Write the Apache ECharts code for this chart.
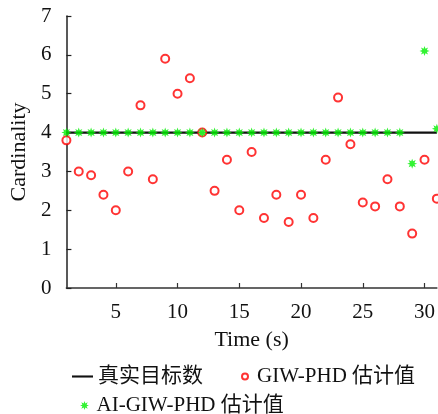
<!DOCTYPE html>
<html>
<head>
  <meta charset="utf-8">
  <title>Cardinality</title>
  <style>
    html, body { margin: 0; padding: 0; background: #fff; }
    #main { width: 438px; height: 414px; }
  </style>
</head>
<body>
  <div id="main"></div>
  <script src="https://cdn.jsdelivr.net/npm/echarts@6/dist/echarts.min.js"></script>
  <script type="text/javascript">
    // time steps 1..31
    const TIMES = [1, 2, 3, 4, 5, 6, 7, 8, 9, 10, 11, 12, 13, 14, 15, 16, 17, 18, 19, 20,
      21, 22, 23, 24, 25, 26, 27, 28, 29, 30, 31]
    const TRUE_COUNT = [4, 4, 4, 4, 4, 4, 4, 4, 4, 4, 4, 4, 4, 4, 4, 4, 4, 4, 4, 4,
      4, 4, 4, 4, 4, 4, 4, 4, 4, 4, 4]
    const GIW_PHD = [3.8, 3.0, 2.9, 2.4, 2.0, 3.0, 4.7, 2.8, 5.9, 5.0, 5.4, 4.0, 2.5, 3.3, 2.0, 3.5,
      1.8, 2.4, 1.7, 2.4, 1.8, 3.3, 4.9, 3.7, 2.2, 2.1, 2.8, 2.1, 1.4, 3.3, 2.3]
    const AI_GIW_PHD = [4, 4, 4, 4, 4, 4, 4, 4, 4, 4, 4, 4, 4, 4, 4, 4, 4, 4, 4, 4,
      4, 4, 4, 4, 4, 4, 4, 4, 3.2, 6.1, 4.1]
    const X_TICKS = [5, 10, 15, 20, 25, 30]
    const NAMES = ['真实目标数', 'GIW-PHD 估计值', 'AI-GIW-PHD 估计值']

    const FONT = '"Liberation Serif", "Noto Sans CJK SC", serif'
    const RED = '#ff0000'
    const GREEN = '#00f000'

    let pairs = (ys) => TIMES.map((t, i) => [t, ys[i]])

    // 8 spiked star, like the matlab '*' marker
    let starPath = () => {
      let pts = []
      for (let i = 0; i < 16; i++) {
        let a = Math.PI * i / 8
        let r = i % 2 == 0 ? 10 : 5
        pts.push((10 + r * Math.sin(a)).toFixed(2) + ',' + (10 - r * Math.cos(a)).toFixed(2))
      }
      return 'path://M' + pts.join('L') + 'Z'
    }
    const STAR = starPath()

    let legendAt = (name, left, top, w, h, icon) => ({
      data: [{ name: name, icon: icon }],
      left: left,
      top: top,
      itemWidth: w,
      itemHeight: h,
      itemGap: 0,
      textStyle: { fontFamily: FONT, fontSize: 21, color: '#111' },
      selectedMode: false
    })

    const OPTION = {
      animation: false,
      backgroundColor: '#fff',
      grid: { left: 66, right: 1, top: 16, bottom: 126 },
      xAxis: {
        type: 'value',
        min: 1,
        max: 31,
        name: 'Time (s)',
        nameLocation: 'middle',
        nameGap: 41,
        nameTextStyle: { fontFamily: FONT, fontSize: 22, color: '#111' },
        axisLine: { lineStyle: { color: '#333', width: 1.5 } },
        axisTick: { inside: true, length: 5, customValues: X_TICKS, lineStyle: { color: '#333', width: 1.2 } },
        axisLabel: { customValues: X_TICKS, margin: 14, fontFamily: FONT, fontSize: 21, color: '#111' },
        splitLine: { show: false }
      },
      yAxis: {
        type: 'value',
        min: 0,
        max: 7,
        interval: 1,
        name: 'Cardinality',
        nameLocation: 'middle',
        nameGap: 36,
        nameTextStyle: { fontFamily: FONT, fontSize: 22, color: '#111' },
        axisLine: { show: true, lineStyle: { color: '#222', width: 1.5 } },
        axisTick: { show: true, inside: true, length: 5, lineStyle: { color: '#222', width: 1.2 } },
        axisLabel: { margin: 15, fontFamily: FONT, fontSize: 21, color: '#111' },
        splitLine: { show: false }
      },
      legend: [
        legendAt(NAMES[0], 67, 361, 21, 12, 'path://M0,0H20V2H0Z'),
        legendAt(NAMES[1], 236, 361, 14, 6, 'emptyCircle'),
        legendAt(NAMES[2], 75, 390, 14, 9, STAR)
      ],
      series: [{
        name: NAMES[0],
        type: 'line',
        data: pairs(TRUE_COUNT),
        symbol: 'none',
        lineStyle: { color: '#111', width: 2.2 },
        itemStyle: { color: '#111' },
        z: 1
      }, {
        name: NAMES[1],
        type: 'scatter',
        data: pairs(GIW_PHD),
        symbol: 'emptyCircle',
        symbolSize: 8,
        itemStyle: { color: RED, borderColor: RED, borderWidth: 0.9 },
        z: 2
      }, {
        name: NAMES[2],
        type: 'scatter',
        data: pairs(AI_GIW_PHD),
        symbol: STAR,
        symbolSize: 10,
        itemStyle: { color: GREEN },
        z: 3
      }]
    }

    let drawChart = (option) => {
      let element = document.querySelector('#main')
      let chart = echarts.init(element, null, { renderer: 'canvas' })
      chart.setOption(option)
    }
    drawChart(OPTION)
  </script>
</body>
</html>
